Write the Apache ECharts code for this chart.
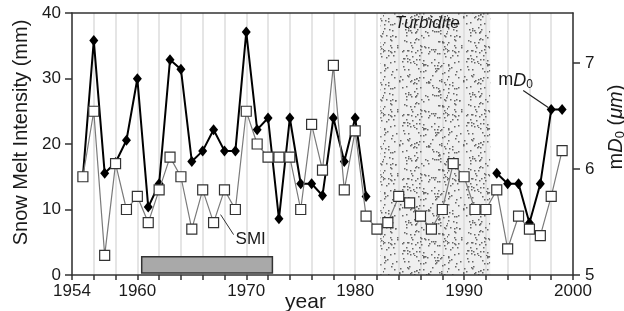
<!DOCTYPE html>
<html>
<head>
<meta charset="utf-8">
<script src="https://cdn.jsdelivr.net/npm/echarts@6/dist/echarts.min.js"></script>
<style>
  html, body { margin: 0; padding: 0; background: #fff; }
  #chart { width: 624px; height: 311px; }
</style>
</head>
<body>
<div id="chart"></div>
<script>
var years = [1955, 1956, 1957, 1958, 1959, 1960, 1961, 1962, 1963, 1964,
    1965, 1966, 1967, 1968, 1969, 1970, 1971, 1972, 1973, 1974,
    1975, 1976, 1977, 1978, 1979, 1980, 1981, 1982, 1983, 1984,
    1985, 1986, 1987, 1988, 1989, 1990, 1991, 1992, 1993, 1994,
    1995, 1996, 1997, 1998, 1999];
// snow melt intensity (mm), left axis
var smiValues = [15, 25, 3, 17, 10, 12, 8, 13, 18, 15,
    7, 13, 8, 13, 10, 25, 20, 18, 18, 18,
    10, 23, 16, 32, 13, 22, 9, 7, 8, 12,
    11, 9, 7, 10, 17, 15, 10, 10, 13, 4,
    9, 7, 6, 12, 19];
// mD0 (um), right axis, no data in the turbidite
var mdValues = [5.93, 7.21, 5.96, 6.06, 6.27, 6.85, 5.64, 5.86, 7.03, 6.94,
    6.07, 6.17, 6.37, 6.17, 6.17, 7.29, 6.37, 6.48, 5.53, 6.48,
    5.86, 5.86, 5.75, 6.48, 6.07, 6.48, 5.74, null, null, null,
    null, null, null, null, null, null, null, null, 5.96, 5.86,
    5.86, 5.49, 5.86, 6.56, 6.56];
var xLabelYears = [1954, 1960, 1970, 1980, 1990, 2000];
var rightTicks = [5, 6, 7];
var turbidite = [1982.3, 1992.4];
var grayBar = [1960.4, 1972.4, 0.3, 2.8];

var FONT = "'Liberation Sans', Arial, sans-serif";
var INK = '#1a1a1a';
var AXIS = { color: '#333', width: 1.5 };

// stipple texture for the turbidite band
function stipple() {
    var c = document.createElement('canvas');
    c.width = 64; c.height = 64;
    var ctx = c.getContext('2d');
    ctx.fillStyle = 'rgba(215,215,215,0.4)';
    ctx.fillRect(0, 0, 64, 64);
    var s = 11;
    function next() { s = (s * 16807) % 2147483647; return s / 2147483647; }
    ctx.fillStyle = '#666';
    for (var i = 0; i < 200; i++) {
        ctx.fillRect(Math.floor(next() * 64), Math.floor(next() * 64), 1.5, 1.5);
    }
    return c;
}

var smiData = years.map(function (y, i) { return [y, smiValues[i]]; });
var mdData = years.map(function (y, i) { return [y, mdValues[i] == null ? '-' : mdValues[i]]; });

var myChart = echarts.init(document.getElementById('chart'));

var option = {
    animation: false,
    textStyle: { fontFamily: FONT, color: INK },
    grid: { left: 72, right: 51, top: 13, bottom: 36, outerBoundsMode: 'none' },
    xAxis: [
        {
            type: 'value', min: 1954, max: 2000, interval: 2, position: 'bottom', z: 10,
            axisLine: { lineStyle: AXIS },
            axisTick: { length: 5, lineStyle: AXIS },
            axisLabel: {
                customValues: xLabelYears, fontSize: 17, margin: 8, color: INK, fontFamily: FONT,
                formatter: function (v) { return String(v); }
            },
            splitLine: { show: false },
            name: 'year', nameLocation: 'middle', nameGap: 17, nameMoveOverlap: false,
            nameTextStyle: { fontSize: 21, color: INK, fontFamily: FONT, padding: [0, 34, 0, 0] }
        },
        {
            // vertical grid lines only
            type: 'value', min: 1954, max: 2000, interval: 2, position: 'bottom',
            axisLine: { show: false }, axisTick: { show: false }, axisLabel: { show: false },
            splitLine: { show: true, lineStyle: { color: '#dcdcdc', width: 1.5 } }
        },
        {
            // top frame line
            type: 'value', min: 1954, max: 2000, position: 'top', z: 10,
            axisLine: { lineStyle: AXIS }, axisTick: { show: false }, axisLabel: { show: false },
            splitLine: { show: false }
        }
    ],
    yAxis: [
        {
            type: 'value', min: 0, max: 40, interval: 10, position: 'left', z: 10,
            axisLine: { show: true, lineStyle: AXIS },
            axisTick: { show: true, length: 7, lineStyle: AXIS },
            axisLabel: { fontSize: 17, margin: 11, color: INK, fontFamily: FONT },
            splitLine: { show: false },
            name: 'Snow Melt Intensity (mm)', nameLocation: 'middle', nameRotate: 90, nameGap: 40,
            nameTextStyle: { fontSize: 20, color: INK, fontFamily: FONT, padding: [0, 0, 0, 23] }
        },
        {
            type: 'value', min: 5, max: 7.47, interval: 1, position: 'right', z: 10,
            axisLine: { show: true, lineStyle: AXIS },
            axisTick: { show: true, length: 7, lineStyle: AXIS, customValues: rightTicks },
            axisLabel: { customValues: rightTicks, fontSize: 17, margin: 12, color: INK, fontFamily: FONT },
            splitLine: { show: false },
            name: '{a|m}{b|D}{s|0}{a| (}{b|μm}{a|)}', nameLocation: 'middle', nameRotate: 90, nameGap: 32,
            nameTextStyle: {
                padding: [0, 0, 0, 34],
                rich: {
                    a: { fontSize: 20, fontFamily: FONT, color: INK, lineHeight: 22 },
                    b: { fontSize: 20, fontFamily: FONT, color: INK, fontStyle: 'italic', lineHeight: 22 },
                    s: { fontSize: 13, fontFamily: FONT, color: INK, verticalAlign: 'bottom', lineHeight: 14 }
                }
            }
        }
    ],
    series: [
        {
            name: 'mD0',
            type: 'line',
            yAxisIndex: 1,
            z: 3,
            data: mdData,
            connectNulls: false,
            symbol: 'diamond',
            symbolSize: [9, 11],
            itemStyle: { color: '#000' },
            lineStyle: { color: '#000', width: 2 }
        },
        {
            name: 'SMI',
            type: 'line',
            yAxisIndex: 0,
            z: 4,
            data: smiData,
            symbol: 'rect',
            symbolSize: 10,
            itemStyle: { color: '#fff', borderColor: '#333', borderWidth: 1.2 },
            lineStyle: { color: '#7a7a7a', width: 1.2 },
            markArea: {
                silent: true,
                data: [
                    [
                        {
                            xAxis: turbidite[0],
                            itemStyle: { color: { image: stipple(), repeat: 'repeat' } },
                            label: {
                                show: true, position: 'insideTop', distance: 2, offset: [-8, 0],
                                formatter: 'Turbidite', fontSize: 17, fontStyle: 'italic',
                                color: INK, fontFamily: FONT
                            }
                        },
                        { xAxis: turbidite[1] }
                    ],
                    [
                        {
                            coord: [grayBar[0], grayBar[2]],
                            itemStyle: { color: '#a9a9a9', borderColor: '#333', borderWidth: 1.5 },
                            label: { show: false }
                        },
                        { coord: [grayBar[1], grayBar[3]] }
                    ]
                ]
            }
        }
    ]
};

myChart.setOption(option);

// leader labels placed from the data through the chart's own scales
var pSmi = myChart.convertToPixel({ seriesIndex: 1 }, [1967, smiValues[years.indexOf(1967)]]);
var pMd = myChart.convertToPixel({ seriesIndex: 0 }, [1998, mdValues[years.indexOf(1998)]]);

myChart.setOption({
    graphic: [
        {
            type: 'line', z: 20,
            shape: { x1: pSmi[0] + 7, y1: pSmi[1] - 8, x2: pSmi[0] + 20, y2: pSmi[1] + 12 },
            style: { stroke: '#333', lineWidth: 1 }
        },
        {
            type: 'text', z: 20, x: pSmi[0] + 22, y: pSmi[1] + 17,
            style: { text: 'SMI', fontSize: 17, fontFamily: FONT, fill: INK, verticalAlign: 'middle' }
        },
        {
            type: 'line', z: 20,
            shape: { x1: pMd[0] - 28, y1: pMd[1] - 19, x2: pMd[0] - 3, y2: pMd[1] - 2 },
            style: { stroke: '#222', lineWidth: 1.2 }
        },
        {
            type: 'text', z: 20, x: pMd[0] - 53, y: pMd[1] - 29,
            style: {
                text: '{a|m}{b|D}{s|0}',
                verticalAlign: 'middle',
                rich: {
                    a: { fontSize: 18, fontFamily: FONT, fill: INK, lineHeight: 20 },
                    b: { fontSize: 18, fontFamily: FONT, fill: INK, fontStyle: 'italic', lineHeight: 20 },
                    s: { fontSize: 12, fontFamily: FONT, fill: INK, verticalAlign: 'bottom', lineHeight: 12 }
                }
            }
        }
    ]
});
</script>
</body>
</html>
